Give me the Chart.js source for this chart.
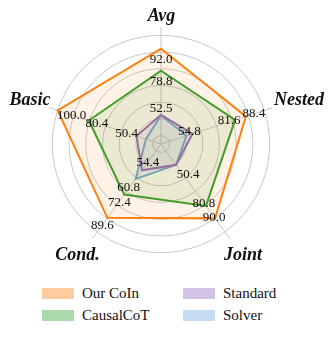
<!DOCTYPE html>
<html lang="en">
<head>
    <meta charset="UTF-8">
    <title>Radar</title>
    <style>
        body {
            margin: 0;
            padding: 0;
            background: #fff;
            font-family: "Liberation Serif", "Times New Roman", serif;
        }

        .wrap {
            position: relative;
            width: 333px;
            height: 339px;
        }

        canvas {
            position: absolute;
            left: 0;
            top: 0;
        }

        .legend {
            position: absolute;
            left: 42px;
            top: 286px;
            display: grid;
            grid-template-columns: 141px 120px;
            row-gap: 7px;
        }

        .legend-item {
            display: flex;
            align-items: center;
            height: 15px;
            font-size: 15px;
            color: #111;
        }

        .legend-box {
            width: 32px;
            height: 11px;
            margin-right: 8px;
        }
    </style>
</head>
<body>
<div class="wrap">
    <canvas id="radarChart" width="333" height="280"></canvas>
    <div class="legend" id="legend"></div>
</div>
<script src="https://cdn.jsdelivr.net/npm/chart.js"></script>
<script>
    // axes and scores
    const axes = ['Avg', 'Nested', 'Joint', 'Cond.', 'Basic'];
    const ourCoIn = [92.0, 88.4, 90.0, 89.6, 100.0];
    const causalCoT = [78.8, 81.6, 80.8, 72.4, 80.4];
    const standard = [52.5, 54.8, 50.4, 54.4, 50.4];
    const solver = [52.2, 51.0, 50.4, 60.8, 44.5];
    const gridTicks = [40, 50, 60, 70, 80, 90, 100];

    const series = [
        {label: 'Our CoIn', data: ourCoIn, rgb: '255,127,14'},
        {label: 'CausalCoT', data: causalCoT, rgb: '44,160,44'},
        {label: 'Standard', data: standard, rgb: '148,103,189'},
        {label: 'Solver', data: solver, rgb: '111,168,220'}
    ];

    // which points get a value printed, and where the text sits relative to the point (px)
    const valueLabels = {
        0: [[0, 10], [8, -4], [-1, -2], [-5, 7], [14, 4]],
        1: [[0, 10], [-6, 0], [-2, -3], [-5, 7], [8, 2]],
        2: [[0, -7], [-3, -3], [12, 9], [6, -9], [-10, -3]],
        3: [null, null, null, [-7, 8], null]
    };
    // axis title offsets from the end of each spoke (text baseline)
    const axisTitleOffsets = [[0.5, -6], [26.7, -3.3], [13.2, 21.8], [-14.7, 21.8], [-19.7, -2.8]];

    const textPlugin = {
        id: 'radarText',
        afterDatasetsDraw(chart) {
            const ctx = chart.ctx;
            const scale = chart.scales.r;
            ctx.save();
            ctx.fillStyle = '#111';
            ctx.textAlign = 'center';
            ctx.textBaseline = 'alphabetic';

            ctx.font = '13px "Liberation Serif", serif';
            Object.keys(valueLabels).forEach(si => {
                valueLabels[si].forEach((off, i) => {
                    if (!off) return;
                    const v = series[si].data[i];
                    const p = scale.getPointPositionForValue(i, v);
                    ctx.fillText(v.toFixed(1), p.x + off[0], p.y + off[1] + 4.4);
                });
            });

            ctx.font = 'italic bold 18px "Liberation Serif", serif';
            const outer = scale.getDistanceFromCenterForValue(scale.max);
            axes.forEach((name, i) => {
                const p = scale.getPointPosition(i, outer);
                ctx.fillText(name, p.x + axisTitleOffsets[i][0], p.y + axisTitleOffsets[i][1]);
            });
            ctx.restore();
        }
    };

    const radarCtx = document.getElementById('radarChart').getContext('2d');
    new Chart(radarCtx, {
        type: 'radar',
        data: {
            labels: axes,
            datasets: series.map(s => ({
                label: s.label,
                data: s.data,
                borderColor: 'rgb(' + s.rgb + ')',
                backgroundColor: 'rgba(' + s.rgb + ',0.1)',
                borderWidth: 2,
                pointRadius: 0,
                fill: true,
                tension: 0
            }))
        },
        options: {
            responsive: false,
            animation: false,
            layout: {
                padding: {top: 27, bottom: 19, left: 44, right: 55}
            },
            plugins: {
                legend: {display: false},
                tooltip: {enabled: false}
            },
            scales: {
                r: {
                    min: 35,
                    max: 105,
                    afterBuildTicks: s => {
                        s.ticks = [35].concat(gridTicks, [105]).map(v => ({value: v}));
                    },
                    ticks: {display: false},
                    grid: {
                        circular: true,
                        lineWidth: 1,
                        color: c => (c.tick && c.tick.value === 105) ? 'rgba(0,0,0,0)' : '#c8c8c8'
                    },
                    angleLines: {color: '#c8c8c8', lineWidth: 1},
                    pointLabels: {display: false}
                }
            }
        },
        plugins: [textPlugin]
    });

    // legend, two columns like the original figure
    const legendOrder = [0, 2, 1, 3];
    const legend = document.getElementById('legend');
    legendOrder.forEach(k => {
        const item = document.createElement('div');
        item.className = 'legend-item';
        item.innerHTML = '<span class="legend-box" style="background:rgba(' + series[k].rgb + ',0.4)"></span>' + series[k].label;
        legend.appendChild(item);
    });
</script>
</body>
</html>
